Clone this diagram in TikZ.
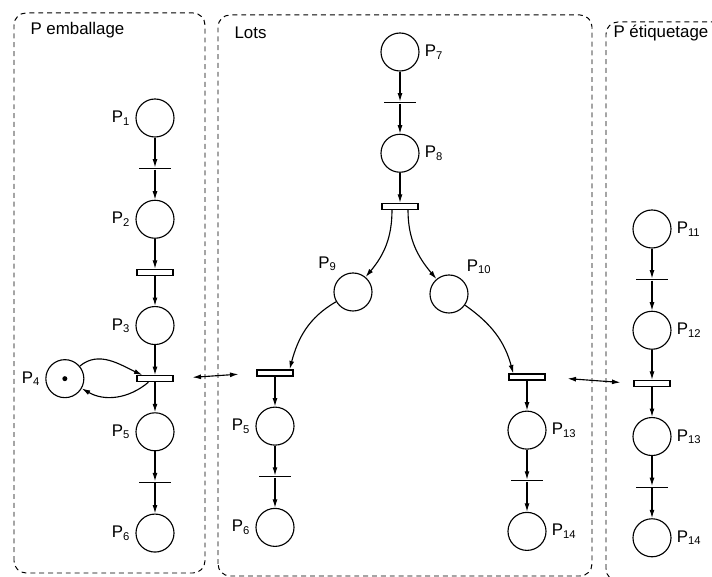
\documentclass[tikz,border=0pt]{standalone}
\usepackage{fontspec}
\setmainfont{Liberation Sans}
\usetikzlibrary{positioning, arrows.meta}

\begin{document}
\begin{tikzpicture}[
x=0.025cm, y=0.025cm,
node distance=0.75cm,
font=\fontsize{12}{14}\selectfont,
line width=0.8pt,
place/.style={circle, draw, minimum size=0.95cm, inner sep=0pt, label distance=-1pt},
trans/.style={rectangle, fill, minimum width=0.82cm, minimum height=0.7pt, inner sep=0pt},
transbar/.style={rectangle, draw, minimum width=0.9cm, minimum height=0.15cm, inner sep=0pt},
arrow/.style={-{Latex[length=6pt, width=3.5pt]}},
biarrow/.style={{Latex[length=6pt, width=3.5pt]}-{Latex[length=6pt, width=3.5pt]}},
zone/.style={draw, line width=0.7pt, rounded corners=0.3cm, dash pattern=on 3.5pt off 2.8pt},
title/.style={anchor=base west, inner sep=0pt}
]
\useasboundingbox (0,0) rectangle (712,577);
\clip (0,0) rectangle (712,577);

% zones
\draw[zone] (14,4) rectangle (205,564);
\draw[zone] (218,1) rectangle (592,562);
\draw[zone] (606,-4) rectangle (740,555);
\node[title] (t_emb) at (30,542) {P emballage};
\node[title] (t_lots) at (234,538) {Lots};
\node[title] (t_eti) at (613,539) {P étiquetage};

% P emballage
\node[place, label={left:P\textsubscript{1}}] (emb_p1) at (155,459) {};
\node[trans, below=of emb_p1] (emb_t1) {};
\node[place, below=of emb_t1, label={left:P\textsubscript{2}}] (emb_p2) {};
\node[transbar, below=of emb_p2] (emb_t2) {};
\node[place, below=of emb_t2, label={left:P\textsubscript{3}}] (emb_p3) {};
\node[transbar, below=of emb_p3] (emb_t3) {};
\node[place, left=1.3cm of emb_t3, label={left:P\textsubscript{4}}] (emb_p4) {};
\node[place, below=of emb_t3, label={left:P\textsubscript{5}}] (emb_p5) {};
\node[trans, below=of emb_p5] (emb_t5) {};
\node[place, below=of emb_t5, label={left:P\textsubscript{6}}] (emb_p6) {};
\fill (emb_p4.center) circle (2.5);

% Lots
\node[place, label={right:P\textsubscript{7}}] (lots_p7) at (400,525) {};
\node[trans, below=of lots_p7] (lots_t7) {};
\node[place, below=of lots_t7, label={right:P\textsubscript{8}}] (lots_p8) {};
\node[transbar, below=of lots_p8] (lots_t8) {};
\node[place, label={125:P\textsubscript{9}}] (lots_p9) at (353,285) {};
\node[place, label={50:P\textsubscript{10}}] (lots_p10) at (449,283) {};
\node[transbar] (lots_t9) at (275,204) {};
\node[place, below=of lots_t9, label={left:P\textsubscript{5}}] (lots_p5) {};
\node[trans, below=of lots_p5] (lots_t5) {};
\node[place, below=of lots_t5, label={left:P\textsubscript{6}}] (lots_p6) {};
\node[transbar] (lots_t10) at (527,200) {};
\node[place, below=of lots_t10, label={right:P\textsubscript{13}}] (lots_p13) {};
\node[trans, below=of lots_p13] (lots_t13) {};
\node[place, below=of lots_t13, label={right:P\textsubscript{14}}] (lots_p14) {};

% P etiquetage
\node[place, label={right:P\textsubscript{11}}] (eti_p11) at (652,348) {};
\node[trans, below=of eti_p11] (eti_t11) {};
\node[place, below=of eti_t11, label={right:P\textsubscript{12}}] (eti_p12) {};
\node[transbar, below=of eti_p12] (eti_t12) {};
\node[place, below=of eti_t12, label={right:P\textsubscript{13}}] (eti_p13) {};
\node[trans, below=of eti_p13] (eti_t13) {};
\node[place, below=of eti_t13, label={right:P\textsubscript{14}}] (eti_p14) {};

\draw[arrow] (emb_p1) -- (emb_t1);
\draw[arrow] (emb_t1) -- (emb_p2);
\draw[arrow] (emb_p2) -- (emb_t2);
\draw[arrow] (emb_t2) -- (emb_p3);
\draw[arrow] (emb_p3) -- (emb_t3);
\draw[arrow] (emb_t3) -- (emb_p5);
\draw[arrow] (emb_p5) -- (emb_t5);
\draw[arrow] (emb_t5) -- (emb_p6);
\draw[arrow] (emb_p4) to[out=40, in=155] ([xshift=0.15cm]emb_t3.north west);
\draw[arrow] ([xshift=0.3cm]emb_t3.south west) to[out=-140, in=-30] (emb_p4);

\draw[arrow] (lots_p7) -- (lots_t7);
\draw[arrow] (lots_t7) -- (lots_p8);
\draw[arrow] (lots_p8) -- (lots_t8);
\draw[arrow] ([xshift=-0.2cm]lots_t8.south) to[out=-90, in=50] (lots_p9);
\draw[arrow] ([xshift=0.2cm]lots_t8.south) to[out=-90, in=130] (lots_p10);
\draw[arrow] (lots_p9) to[out=210, in=75] ([xshift=-0.1cm]lots_t9.north east);
\draw[arrow] (lots_p10) to[out=-35, in=105] ([xshift=0.12cm]lots_t10.north west);
\draw[arrow] (lots_t9) -- (lots_p5);
\draw[arrow] (lots_p5) -- (lots_t5);
\draw[arrow] (lots_t5) -- (lots_p6);
\draw[arrow] (lots_t10) -- (lots_p13);
\draw[arrow] (lots_p13) -- (lots_t13);
\draw[arrow] (lots_t13) -- (lots_p14);

\draw[arrow] (eti_p11) -- (eti_t11);
\draw[arrow] (eti_t11) -- (eti_p12);
\draw[arrow] (eti_p12) -- (eti_t12);
\draw[arrow] (eti_t12) -- (eti_p13);
\draw[arrow] (eti_p13) -- (eti_t13);
\draw[arrow] (eti_t13) -- (eti_p14);

\draw[biarrow, shorten <=0.475cm, shorten >=0.45cm] (emb_t3.east) -- (lots_t9.west);
\draw[biarrow, shorten <=0.55cm, shorten >=0.325cm] (lots_t10.east) -- (eti_t12.west);

\end{tikzpicture}
\end{document}
